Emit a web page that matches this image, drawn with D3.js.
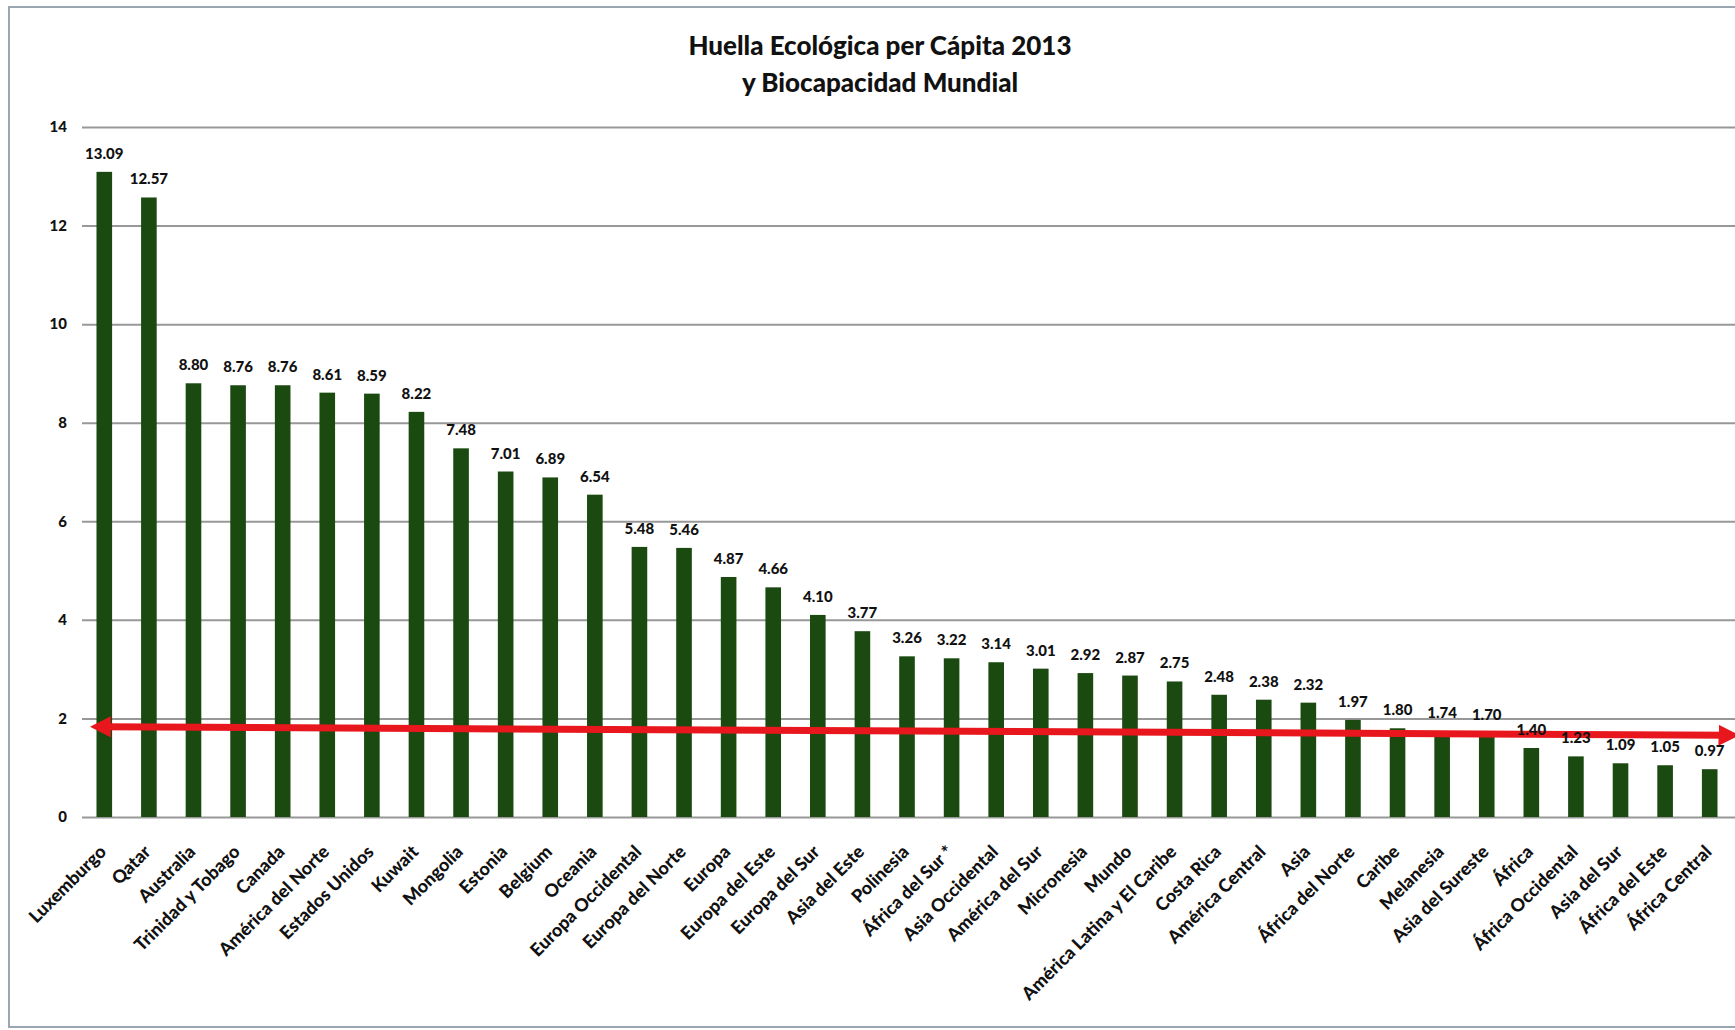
<!DOCTYPE html>
<html>
<head>
<meta charset="utf-8">
<script src="https://cdn.jsdelivr.net/npm/d3@7"></script>
<style>
  html, body { margin: 0; padding: 0; background: #fff; }
  svg { display: block; }
  text { font-family: Lato, "Open Sans", "DejaVu Sans", sans-serif; font-weight: 900; fill: #111; }
</style>
</head>
<body>
<svg id="chart" width="1735" height="1030"></svg>
<script>
// Ecological footprint per capita (gha), 2013
const categories = [
  "Luxemburgo", "Qatar", "Australia", "Trinidad y Tobago", "Canada",
  "América del Norte", "Estados Unidos", "Kuwait", "Mongolia", "Estonia",
  "Belgium", "Oceania", "Europa Occidental", "Europa del Norte", "Europa",
  "Europa del Este", "Europa del Sur", "Asia del Este", "Polinesia", "África del Sur *",
  "Asia Occidental", "América del Sur", "Micronesia", "Mundo", "América Latina y El Caribe",
  "Costa Rica", "América Central", "Asia", "África del Norte", "Caribe",
  "Melanesia", "Asia del Sureste", "África", "África Occidental", "Asia del Sur",
  "África del Este", "África Central"
];
const footprint = [
  13.09, 12.57, 8.80, 8.76, 8.76,
  8.61, 8.59, 8.22, 7.48, 7.01,
  6.89, 6.54, 5.48, 5.46, 4.87,
  4.66, 4.10, 3.77, 3.26, 3.22,
  3.14, 3.01, 2.92, 2.87, 2.75,
  2.48, 2.38, 2.32, 1.97, 1.80,
  1.74, 1.70, 1.40, 1.23, 1.09,
  1.05, 0.97
];
const yTicks = [0, 2, 4, 6, 8, 10, 12, 14];
// World biocapacity reference arrow: value at its left and right ends
const biocapacity = [1.83, 1.66];
const titleLines = ["Huella Ecológica per Cápita 2013", "y Biocapacidad Mundial"];

const svg = d3.select("#chart");
const W = 1735, H = 1030;

// chart frame
svg.append("rect")
  .attr("x", 9).attr("y", 7).attr("width", W + 20).attr("height", H - 10)
  .attr("fill", "#fff").attr("stroke", "#9aa6b0").attr("stroke-width", 2);

const plotLeft = 82, plotRight = 1732, plotTop = 127, plotBottom = 817;

const x = d3.scaleBand()
  .domain(categories)
  .range([plotLeft, plotRight])
  .paddingInner(0.65)
  .paddingOuter(0.325);

const y = d3.scaleLinear().domain([0, 14]).range([plotBottom, plotTop]);

// title
svg.append("g").selectAll("text")
  .data(titleLines)
  .join("text")
  .attr("x", 880)
  .attr("y", (d, i) => 55 + i * 37)
  .attr("text-anchor", "middle")
  .attr("font-size", 26)
  .attr("font-weight", 700)
  .text(d => d);

// horizontal gridlines + y tick labels
const yAxis = d3.axisLeft(y)
  .tickValues(yTicks)
  .tickSize(-(W - plotLeft))
  .tickPadding(15)
  .tickFormat(d3.format("d"));

const gy = svg.append("g")
  .attr("transform", `translate(${plotLeft},0)`)
  .call(yAxis);
gy.select(".domain").remove();
gy.selectAll(".tick line").attr("stroke", "#989898").attr("stroke-width", 2);
gy.selectAll(".tick text")
  .attr("font-size", 15)
  .attr("font-family", "Lato, 'Open Sans', sans-serif")
  .attr("font-weight", 900)
  .attr("fill", "#111");

// bars
svg.append("g").selectAll("rect")
  .data(categories)
  .join("rect")
  .attr("x", d => x(d))
  .attr("width", x.bandwidth())
  .attr("y", (d, i) => y(footprint[i]))
  .attr("height", (d, i) => y(0) - y(footprint[i]))
  .attr("fill", "#1a4a10");

// biocapacity arrow
const defs = svg.append("defs");
["bioStart", "bioEnd"].forEach(id => {
  defs.append("marker")
    .attr("id", id)
    .attr("viewBox", "0 0 10 10")
    .attr("refX", 5).attr("refY", 5)
    .attr("markerWidth", 3).attr("markerHeight", 3)
    .attr("orient", "auto-start-reverse")
    .append("path")
    .attr("d", "M0,0 L10,5 L0,10 z")
    .attr("fill", "#e8161d");
});

const lineX = d3.scaleLinear().domain([0, 1]).range([x(categories[0]) + x.bandwidth() / 2 - 4, W - 6]);
svg.append("path")
  .datum(biocapacity)
  .attr("d", d3.line().x((d, i) => lineX(i)).y(d => y(d)))
  .attr("fill", "none")
  .attr("stroke", "#e8161d")
  .attr("stroke-width", 7)
  .attr("marker-start", "url(#bioStart)")
  .attr("marker-end", "url(#bioEnd)");

// value labels
svg.append("g").selectAll("text")
  .data(categories)
  .join("text")
  .attr("x", d => x(d) + x.bandwidth() / 2)
  .attr("y", (d, i) => y(footprint[i]) - 13)
  .attr("text-anchor", "middle")
  .attr("font-size", 15)
  .text((d, i) => d3.format(".2f")(footprint[i]));

// category labels, rotated
svg.append("g").selectAll("text")
  .data(categories)
  .join("text")
  .attr("transform", d => `translate(${x(d) + x.bandwidth() / 2 + 3},${plotBottom + 36}) rotate(-45)`)
  .attr("text-anchor", "end")
  .attr("font-size", 18)
  .text(d => d);
</script>
</body>
</html>
